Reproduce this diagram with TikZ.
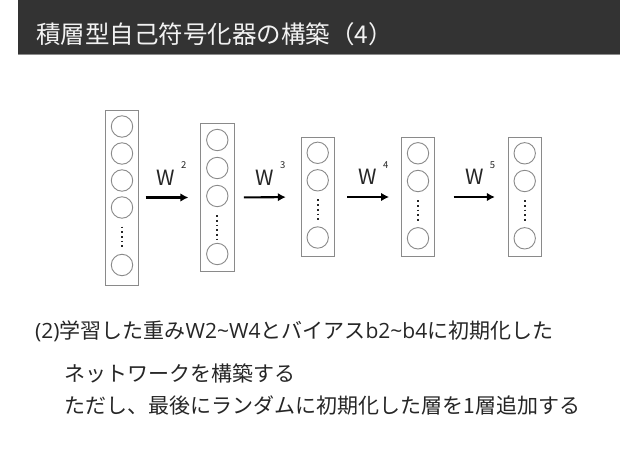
\documentclass[tikz,border=0pt]{standalone}
\usepackage{fontspec}
\setmainfont{Noto Sans CJK JP}
\newfontfamily\latinf{Open Sans}
\usetikzlibrary{arrows.meta}
\definecolor{barcol}{HTML}{333333}
\definecolor{barline}{HTML}{8C8C8C}
\definecolor{boxcol}{HTML}{8A8A8A}
\definecolor{txtcol}{HTML}{262626}
\tikzset{
  layerbox/.style={draw=boxcol, line width=0.9pt, minimum width=33.5pt, inner sep=0pt},
  unit/.style={circle, draw=boxcol, line width=0.9pt, minimum size=21.4pt, inner sep=0pt},
  vdots/.style={draw=txtcol, line width=1.8pt, dash pattern=on 1.7pt off 3pt, shorten <=8pt, shorten >=4pt},
  conn/.style={-{Latex[length=8pt,width=8.5pt]}, line width=2.1pt},
  wlabel/.style={font=\fontsize{21}{21}\selectfont, inner sep=0pt, anchor=base west, text=txtcol},
  bodytext/.style={anchor=base west, inner sep=0pt, text=txtcol, font=\fontsize{21}{21}\selectfont}
}
\newcommand{\wsup}[1]{W\hspace{6pt}\raisebox{16.5pt}{\fontsize{9.5}{9.5}\selectfont #1}}
\begin{document}
\begin{tikzpicture}[x=1pt,y=-1pt]
\useasboundingbox (0,0) rectangle (638,452);
\fill[white] (0,0) rectangle (638,452);
% title bar
\fill[barcol] (18,0) rectangle (620,54);
\draw[barline, line width=1pt] (18,54.5) -- (620,54.5);
\node[anchor=base west, inner sep=0pt, text=white!95!black, font=\fontsize{24.5}{24.5}\selectfont] (title) at (36.2,43.2) {積層型自己符号化器の構築（4）};

% layer 1
\node[layerbox, minimum height=175pt] (b1) at (122,197.5) {};
\node[unit] (c11) at (122,126.5) {};
\node[unit] (c12) at (122,153.5) {};
\node[unit] (c13) at (122,180.5) {};
\node[unit] (c14) at (122,207.5) {};
\node[unit] (c15) at (122,265) {};
\draw[vdots] (c14.south) -- (c15.north);

% layer 2
\node[layerbox, minimum height=147.7pt] (b2) at (217.3,197.5) {};
\node[unit] (c21) at (217.3,140) {};
\node[unit] (c22) at (217.3,168) {};
\node[unit] (c23) at (217.3,196) {};
\node[unit] (c24) at (217.3,254) {};
\draw[vdots] (c23.south) -- (c24.north);

% layer 3
\node[layerbox, minimum height=118.7pt] (b3) at (317.7,197) {};
\node[unit] (c31) at (317.7,152.8) {};
\node[unit] (c32) at (317.7,180.3) {};
\node[unit] (c33) at (317.7,237.5) {};
\draw[vdots] (c32.south) -- (c33.north);

% layer 4
\node[layerbox, minimum height=118.7pt] (b4) at (418,197) {};
\node[unit] (c41) at (418,153.3) {};
\node[unit] (c42) at (418,181) {};
\node[unit] (c43) at (418,238.3) {};
\draw[vdots] (c42.south) -- (c43.north);

% layer 5
\node[layerbox, minimum height=118.7pt] (b5) at (524.7,197) {};
\node[unit] (c51) at (524.7,153.3) {};
\node[unit] (c52) at (524.7,181) {};
\node[unit] (c53) at (524.7,238.3) {};
\draw[vdots] (c52.south) -- (c53.north);

% arrows
\draw[conn, shorten <=6.3pt, shorten >=11.7pt] (b1.east) -- (b2.west);
\draw[conn, shorten <=9.3pt, shorten >=14.7pt] (b2.east) -- (b3.west);
\draw[conn, shorten <=12.4pt, shorten >=11.7pt] (b3.east) -- (b4.west);
\draw[conn, shorten <=18.3pt, shorten >=12.6pt] (b4.east) -- (b5.west);

% weight labels
\node[wlabel] (w2) at (156.5,185) {\wsup{2}};
\node[wlabel] (w3) at (255.5,185) {\wsup{3}};
\node[wlabel] (w4) at (358.5,184.5) {\wsup{4}};
\node[wlabel] (w5) at (465.2,184.5) {\wsup{5}};

% body text
\node[bodytext] (t1) at (35,338) {{\latinf (2)}学習した重み{\latinf W2\textasciitilde W4}とバイアス{\latinf b2\textasciitilde b4}に初期化した};
\node[bodytext] (t2) at (64.5,381) {ネットワークを構築する};
\node[bodytext] (t3) at (64.5,413) {ただし、最後にランダムに初期化した層を1層追加する};
\end{tikzpicture}
\end{document}
